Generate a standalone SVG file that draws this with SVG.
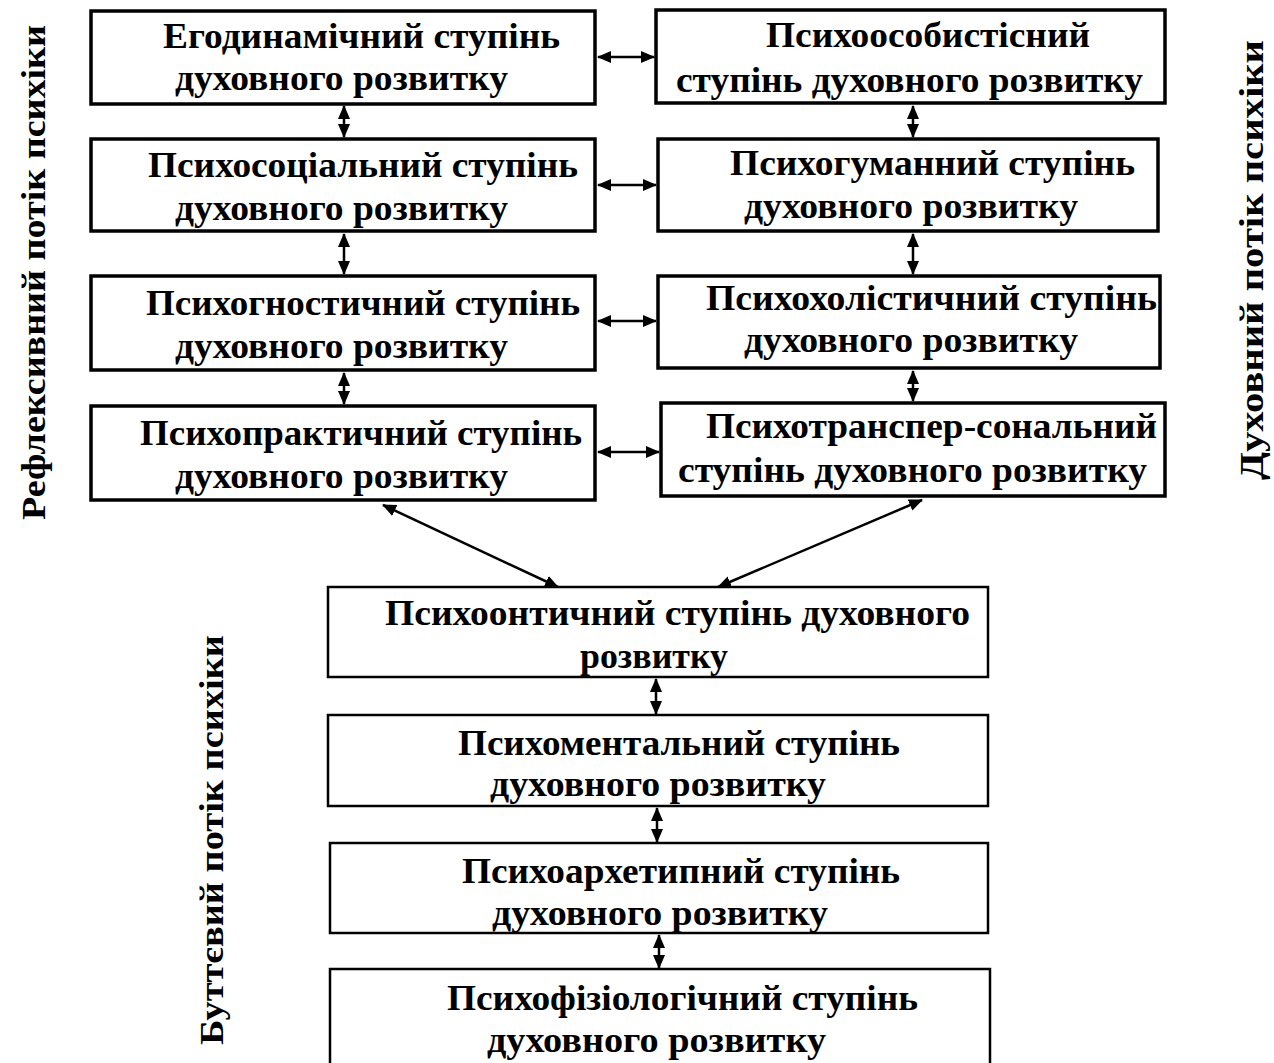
<svg xmlns="http://www.w3.org/2000/svg" width="1274" height="1063" viewBox="0 0 1274 1063">
<style>
.box{fill:#fff;stroke:#000;stroke-width:3.5}
.box2{fill:#fff;stroke:#000;stroke-width:2.5}
.t{font-family:"Liberation Serif","Times New Roman",serif;font-weight:bold;font-size:36px;fill:#000}
.s{font-family:"Liberation Serif","Times New Roman",serif;font-weight:bold;font-size:34px;fill:#000}
.c{stroke:#000;stroke-width:2.5;fill:none;marker-start:url(#ah);marker-end:url(#ah)}
</style>
<defs>
<marker id="ah" viewBox="0 0 14 12" refX="13" refY="6" markerWidth="14" markerHeight="12" markerUnits="userSpaceOnUse" orient="auto-start-reverse">
<path d="M0,0 L14,6 L0,12 z" fill="#000"/>
</marker>
</defs>
<rect width="1274" height="1063" fill="#fff"/>

<g id="side-labels">
<text class="s" transform="translate(45,520) rotate(-90)" textLength="495" lengthAdjust="spacingAndGlyphs">Рефлексивний потік психіки</text>
<text class="s" transform="translate(1263,480) rotate(-90)" textLength="440" lengthAdjust="spacingAndGlyphs">Духовний потік психіки</text>
<text class="s" transform="translate(223,1045) rotate(-90)" textLength="410" lengthAdjust="spacingAndGlyphs">Буттєвий потік психіки</text>
</g>

<g id="connectors">
<line class="c" x1="344" y1="106" x2="344" y2="137"/>
<line class="c" x1="344" y1="234" x2="344" y2="274"/>
<line class="c" x1="344" y1="373" x2="344" y2="404"/>
<line class="c" x1="913" y1="106" x2="913" y2="137"/>
<line class="c" x1="913" y1="234" x2="913" y2="274"/>
<line class="c" x1="913" y1="371" x2="913" y2="401"/>
<line class="c" x1="598" y1="57" x2="654" y2="57"/>
<line class="c" x1="598" y1="185" x2="656" y2="185"/>
<line class="c" x1="598" y1="321" x2="656" y2="321"/>
<line class="c" x1="598" y1="452" x2="659" y2="452"/>
<line class="c" x1="383" y1="505" x2="558" y2="587"/>
<line class="c" x1="922" y1="500" x2="718" y2="587"/>
<line class="c" x1="656" y1="679" x2="656" y2="714"/>
<line class="c" x1="657" y1="808" x2="657" y2="842"/>
<line class="c" x1="659" y1="935" x2="659" y2="968"/>
</g>

<g id="n-egodynamic">
<rect class="box" x="91" y="11" width="504" height="93"/>
<text class="t" x="163" y="48" textLength="397" lengthAdjust="spacingAndGlyphs">Егодинамічний ступінь</text>
<text class="t" x="175" y="90" textLength="333" lengthAdjust="spacingAndGlyphs">духовного розвитку</text>
</g>
<g id="n-psychosocial">
<rect class="box" x="91" y="139" width="504" height="92"/>
<text class="t" x="148" y="177" textLength="430" lengthAdjust="spacingAndGlyphs">Психосоціальний ступінь</text>
<text class="t" x="175" y="220" textLength="333" lengthAdjust="spacingAndGlyphs">духовного розвитку</text>
</g>
<g id="n-psychognostic">
<rect class="box" x="91" y="276" width="504" height="94"/>
<text class="t" x="146" y="315" textLength="434" lengthAdjust="spacingAndGlyphs">Психогностичний ступінь</text>
<text class="t" x="175" y="358" textLength="333" lengthAdjust="spacingAndGlyphs">духовного розвитку</text>
</g>
<g id="n-psychopractical">
<rect class="box" x="91" y="406" width="504" height="94"/>
<text class="t" x="140" y="445" textLength="442" lengthAdjust="spacingAndGlyphs">Психопрактичний ступінь</text>
<text class="t" x="175" y="488" textLength="333" lengthAdjust="spacingAndGlyphs">духовного розвитку</text>
</g>

<g id="n-psychopersonal">
<rect class="box" x="656" y="10" width="509" height="93"/>
<text class="t" x="766" y="47" textLength="324" lengthAdjust="spacingAndGlyphs">Психоособистісний</text>
<text class="t" x="676" y="92" textLength="467" lengthAdjust="spacingAndGlyphs">ступінь духовного розвитку</text>
</g>
<g id="n-psychohumane">
<rect class="box" x="658" y="139" width="500" height="92"/>
<text class="t" x="730" y="175" textLength="405" lengthAdjust="spacingAndGlyphs">Психогуманний ступінь</text>
<text class="t" x="744" y="218" textLength="334" lengthAdjust="spacingAndGlyphs">духовного розвитку</text>
</g>
<g id="n-psychoholistic">
<rect class="box" x="658" y="276" width="502" height="92"/>
<text class="t" x="706" y="310" textLength="451" lengthAdjust="spacingAndGlyphs">Психохолістичний ступінь</text>
<text class="t" x="744" y="352" textLength="334" lengthAdjust="spacingAndGlyphs">духовного розвитку</text>
</g>
<g id="n-psychotranspersonal">
<rect class="box" x="661" y="403" width="504" height="93"/>
<text class="t" x="706" y="438" textLength="451" lengthAdjust="spacingAndGlyphs">Психотранспер-сональний</text>
<text class="t" x="678" y="482" textLength="469" lengthAdjust="spacingAndGlyphs">ступінь духовного розвитку</text>
</g>

<g id="n-psychoontic">
<rect class="box2" x="328" y="587" width="660" height="90"/>
<text class="t" x="385" y="625" textLength="585" lengthAdjust="spacingAndGlyphs">Психоонтичний ступінь духовного</text>
<text class="t" x="580" y="668" textLength="148" lengthAdjust="spacingAndGlyphs">розвитку</text>
</g>
<g id="n-psychomental">
<rect class="box2" x="328" y="715" width="660" height="91"/>
<text class="t" x="458" y="755" textLength="442" lengthAdjust="spacingAndGlyphs">Психоментальний ступінь</text>
<text class="t" x="490" y="796" textLength="336" lengthAdjust="spacingAndGlyphs">духовного розвитку</text>
</g>
<g id="n-psychoarchetypal">
<rect class="box2" x="330" y="843" width="658" height="90"/>
<text class="t" x="462" y="883" textLength="438" lengthAdjust="spacingAndGlyphs">Психоархетипний ступінь</text>
<text class="t" x="492" y="925" textLength="336" lengthAdjust="spacingAndGlyphs">духовного розвитку</text>
</g>
<g id="n-psychophysiological">
<rect class="box2" x="330" y="969" width="660" height="100"/>
<text class="t" x="447" y="1010" textLength="471" lengthAdjust="spacingAndGlyphs">Психофізіологічний ступінь</text>
<text class="t" x="487" y="1052" textLength="339" lengthAdjust="spacingAndGlyphs">духовного розвитку</text>
</g>
</svg>
